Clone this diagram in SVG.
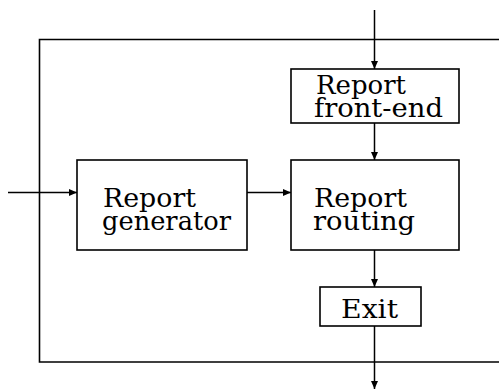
<svg xmlns="http://www.w3.org/2000/svg" width="499" height="389" viewBox="0 0 499 389">
  <style>
    .box { fill: #fff; stroke: #000; stroke-width: 1.6; }
    .frame { fill: none; stroke: #000; stroke-width: 1.6; }
    .wire { fill: none; stroke: #000; stroke-width: 1.5; }
    .lbl { font-family: "DejaVu Serif", "Liberation Serif", serif; font-size: 26px; fill: #000; }
  </style>
  <defs>
    <marker id="arrow" viewBox="0 0 8 7" refX="8" refY="3.5" markerWidth="8" markerHeight="7" markerUnits="userSpaceOnUse" orient="auto">
      <path d="M0,0 L8,3.5 L0,7 Z" fill="#000"/>
    </marker>
  </defs>

  <!-- enclosing frame, open on the right -->
  <path class="frame" d="M499,39.5 H39.5 V362 H499"/>

  <g id="connectors">
    <line class="wire" x1="374.5" y1="10" x2="374.5" y2="69" marker-end="url(#arrow)"/>
    <line class="wire" x1="374.5" y1="123" x2="374.5" y2="160" marker-end="url(#arrow)"/>
    <line class="wire" x1="8" y1="192.5" x2="77" y2="192.5" marker-end="url(#arrow)"/>
    <line class="wire" x1="247" y1="192.5" x2="291" y2="192.5" marker-end="url(#arrow)"/>
    <line class="wire" x1="374.5" y1="250" x2="374.5" y2="287" marker-end="url(#arrow)"/>
    <line class="wire" x1="374.5" y1="326" x2="374.5" y2="389" marker-end="url(#arrow)"/>
  </g>

  <g id="front-end">
    <rect class="box" x="291" y="69" width="168" height="54"/>
    <text class="lbl" x="316" y="94" textLength="90" lengthAdjust="spacingAndGlyphs">Report</text>
    <text class="lbl" x="314" y="116.5" textLength="129" lengthAdjust="spacingAndGlyphs">front-end</text>
  </g>

  <g id="generator">
    <rect class="box" x="77" y="160" width="170" height="90"/>
    <text class="lbl" x="103" y="206.5" textLength="93" lengthAdjust="spacingAndGlyphs">Report</text>
    <text class="lbl" x="102" y="229.5" textLength="129" lengthAdjust="spacingAndGlyphs">generator</text>
  </g>

  <g id="routing">
    <rect class="box" x="291" y="160" width="168" height="90"/>
    <text class="lbl" x="314" y="206.5" textLength="93" lengthAdjust="spacingAndGlyphs">Report</text>
    <text class="lbl" x="313" y="229.5" textLength="102" lengthAdjust="spacingAndGlyphs">routing</text>
  </g>

  <g id="exit">
    <rect class="box" x="320" y="287" width="101" height="39"/>
    <text class="lbl" x="341" y="318" textLength="57" lengthAdjust="spacingAndGlyphs">Exit</text>
  </g>
</svg>
